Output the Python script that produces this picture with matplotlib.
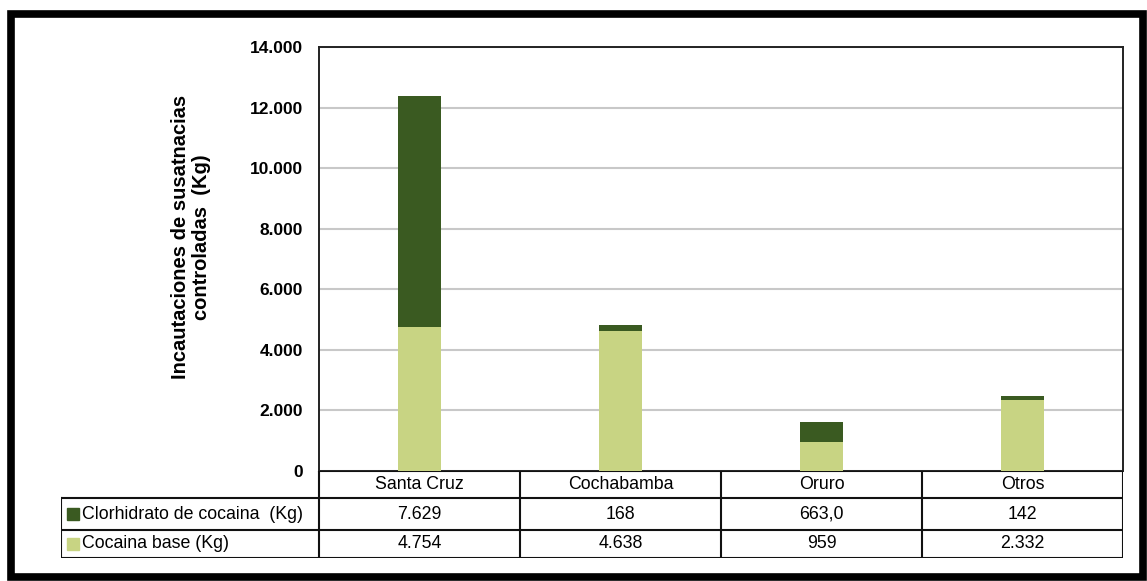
import numpy as np
import matplotlib.pyplot as plt
from matplotlib.patches import Rectangle
from matplotlib.lines import Line2D

# Data
categories = ["Santa Cruz", "Cochabamba", "Oruro", "Otros"]
clorhidrato = [7629, 168, 663.0, 142]
cocaina_base = [4754, 4638, 959, 2332]
clorhidrato_labels = ["7.629", "168", "663,0", "142"]
base_labels = ["4.754", "4.638", "959", "2.332"]
series_names = ["Clorhidrato de cocaina  (Kg)", "Cocaina base (Kg)"]
yticks = [0, 2000, 4000, 6000, 8000, 10000, 12000, 14000]

dark = "#3a5a21"
light = "#c8d483"

plt.rcParams['font.family'] = ['Liberation Sans', 'DejaVu Sans']

W, H = 1147, 581
fig = plt.figure(figsize=(W / 100, H / 100), dpi=100)

def fx(px):
    return px / W

def fy(py):
    return 1 - py / H

# outer frame
fig.patches.append(Rectangle((fx(11), fy(577)), fx(1143) - fx(11), fy(14) - fy(577),
                             transform=fig.transFigure, fill=False,
                             edgecolor="black", linewidth=5.5))

# main plot
ax = fig.add_axes([fx(319), fy(471), fx(1123) - fx(319), fy(47) - fy(471)])
x = np.arange(len(categories))
ax.bar(x, cocaina_base, width=0.21, color=light, zorder=3)
ax.bar(x, clorhidrato, width=0.21, bottom=cocaina_base, color=dark, zorder=3)
ax.set_xlim(-0.5, len(categories) - 0.5)
ax.set_ylim(0, 14000)
ax.set_yticks(yticks)
ax.set_yticklabels([f"{v:,}".replace(",", ".") for v in yticks],
                   fontsize=12.5, fontweight="bold")
ax.tick_params(axis="y", length=0, pad=11.5)
ax.set_xticks([])
ax.yaxis.grid(True, color="#c8c8c8", linewidth=1.5, zorder=0)
for s in ax.spines.values():
    s.set_linewidth(1.4)
    s.set_color("#222222")
fig.text(fx(191), fy(237), "Incautaciones de susatnacias\ncontroladas  (Kg)",
         rotation=90, ha="center", va="center", fontsize=14.5,
         fontweight="bold", linespacing=1.1, multialignment="center")

# data table below the plot
tab = fig.add_axes([fx(61), fy(558), fx(1123) - fx(61), fy(471) - fy(558)])
left_w = (319 - 61) / ((1123 - 319) / len(categories))
x0 = -0.5 - left_w
x1 = len(categories) - 0.5
tab.set_xlim(x0, x1)
tab.set_ylim(0, 3)
tab.axis("off")

lc = "#111111"
lw = 1.5
row_y = [3, 2.06, 0.97, 0]
# horizontal lines
tab.add_line(Line2D([-0.5, x1], [row_y[0], row_y[0]], color=lc, lw=lw))
for yy in row_y[1:]:
    tab.add_line(Line2D([x0, x1], [yy, yy], color=lc, lw=lw))
# vertical lines
tab.add_line(Line2D([x0, x0], [0, row_y[1]], color=lc, lw=lw))
for i in range(len(categories) + 1):
    tab.add_line(Line2D([i - 0.5, i - 0.5], [0, 3], color=lc, lw=lw))

fs = 12.8
mid = [(row_y[0] + row_y[1]) / 2, (row_y[1] + row_y[2]) / 2, (row_y[2] + row_y[3]) / 2]
for i, c in enumerate(categories):
    tab.text(i, mid[0], c, ha="center", va="center", fontsize=fs)
    tab.text(i, mid[1], clorhidrato_labels[i], ha="center", va="center", fontsize=fs)
    tab.text(i, mid[2], base_labels[i], ha="center", va="center", fontsize=fs)

sq_w = 12 / ((1123 - 319) / len(categories))
for yy, name, col in [(mid[1], series_names[0], dark), (mid[2], series_names[1], light)]:
    tab.add_patch(Rectangle((x0 + 6 / 201, yy - 0.2), sq_w, 0.4, color=col))
    tab.text(x0 + 21 / 201, yy, name, ha="left", va="center", fontsize=fs)

fig.savefig("out.png", dpi=100)
